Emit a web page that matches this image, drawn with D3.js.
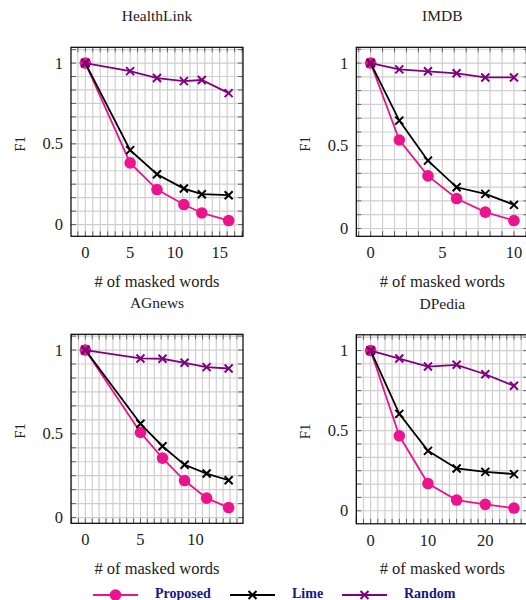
<!DOCTYPE html>
<html>
<head>
<meta charset="utf-8">
<script src="https://cdn.jsdelivr.net/npm/d3@7"></script>
<style>
body { margin: 0; background: #fff; }
</style>
</head>
<body>
<div id="chart"></div>
<script>
// values (F1 vs number of masked words)
var healthX = [0, 5, 8, 11, 13, 16];
var healthProposed = [1.0, 0.382, 0.217, 0.124, 0.072, 0.025];
var healthLime = [1.0, 0.461, 0.312, 0.223, 0.188, 0.182];
var healthRandom = [1.0, 0.950, 0.907, 0.888, 0.895, 0.814];

var imdbX = [0, 2, 4, 6, 8, 10];
var imdbProposed = [1.0, 0.535, 0.318, 0.181, 0.099, 0.048];
var imdbLime = [1.0, 0.652, 0.410, 0.249, 0.209, 0.143];
var imdbRandom = [1.0, 0.962, 0.950, 0.938, 0.913, 0.913];

var agX = [0, 5, 7, 9, 11, 13];
var agProposed = [1.0, 0.508, 0.355, 0.221, 0.116, 0.060];
var agLime = [1.0, 0.560, 0.426, 0.315, 0.263, 0.223];
var agRandom = [1.0, 0.950, 0.948, 0.924, 0.898, 0.890];

var dpX = [0, 5, 10, 15, 20, 25];
var dpProposed = [1.0, 0.468, 0.170, 0.067, 0.040, 0.017];
var dpLime = [1.0, 0.605, 0.374, 0.264, 0.243, 0.229];
var dpRandom = [1.0, 0.950, 0.900, 0.911, 0.852, 0.780];

var titles = ["HealthLink", "IMDB", "AGnews", "DPedia"];
var xTickValues = [[0, 5, 10, 15], [0, 5, 10], [0, 5, 10], [0, 10, 20]];
var yTickValues = [0, 0.5, 1];
var seriesNames = ["Proposed", "Lime", "Random"];
var xLabel = "# of masked words";
var yLabel = "F1";

var colors = ["#ec148c", "#000000", "#800080"];
var markers = ["circle", "x", "x"];
var serif = "'Liberation Serif', 'DejaVu Serif', serif";

var panels = [
    {title: titles[0], xs: healthX, ys: [healthProposed, healthLime, healthRandom], ticks: xTickValues[0], minor: 5, left: 71, top: 47.3},
    {title: titles[1], xs: imdbX, ys: [imdbProposed, imdbLime, imdbRandom], ticks: xTickValues[1], minor: 5, left: 356.3, top: 47.3},
    {title: titles[2], xs: agX, ys: [agProposed, agLime, agRandom], ticks: xTickValues[2], minor: 7, left: 71, top: 334.3},
    {title: titles[3], xs: dpX, ys: [dpProposed, dpLime, dpRandom], ticks: xTickValues[3], minor: 7, left: 356.3, top: 334.8}
];

var boxW = 172, boxH = 189;

var svg = d3.select("#chart").append("svg")
    .attr("width", 526)
    .attr("height", 600)
    .attr("font-family", serif);

function drawMarker(sel, type, color) {
    if (type == "circle") {
        sel.append("circle").attr("r", 5.8).attr("fill", color);
    } else {
        sel.append("path")
            .attr("d", "M-4,-4L4,4M-4,4L4,-4")
            .attr("stroke", color)
            .attr("stroke-width", 2)
            .attr("fill", "none");
    }
}

// pgfplots style: enlarge limits by 10% of the data range
function enlarge(ext) {
    var pad = (ext[1] - ext[0]) * 0.1;
    return [ext[0] - pad, ext[1] + pad];
}

function gridValues(domain, step) {
    var start = Math.ceil(domain[0] / step - 1e-9) * step;
    return d3.range(start, domain[1] + 1e-9, step);
}

function addText(sel) {
    return sel.append("text")
        .attr("font-family", serif)
        .attr("fill", "#222");
}

function drawPanel(p) {
    var g = svg.append("g").attr("transform", "translate(" + p.left + "," + p.top + ")");

    var allY = d3.merge(p.ys);
    var x = d3.scaleLinear().domain(enlarge(d3.extent(p.xs))).range([0, boxW]);
    var y = d3.scaleLinear().domain(enlarge(d3.extent(allY))).range([boxH, 0]);

    var xStep = (p.ticks[1] - p.ticks[0]) / (p.minor + 1);
    var yStep = 0.5 / 6;
    var xGrid = gridValues(x.domain(), xStep);
    var yGrid = gridValues(y.domain(), yStep);

    // grid
    g.append("g").selectAll("line").data(xGrid).enter().append("line")
        .attr("x1", function(d) { return x(d); }).attr("x2", function(d) { return x(d); })
        .attr("y1", 0).attr("y2", boxH)
        .attr("stroke", "#cfcfcf").attr("stroke-width", 1.2);
    g.append("g").selectAll("line").data(yGrid).enter().append("line")
        .attr("y1", function(d) { return y(d); }).attr("y2", function(d) { return y(d); })
        .attr("x1", 0).attr("x2", boxW)
        .attr("stroke", "#cfcfcf").attr("stroke-width", 1.2);

    // inner ticks on all four sides
    var tk = g.append("g").attr("stroke", "#555").attr("stroke-width", 0.9);
    xGrid.forEach(function(d) {
        tk.append("line").attr("x1", x(d)).attr("x2", x(d)).attr("y1", boxH).attr("y2", boxH - 5);
        tk.append("line").attr("x1", x(d)).attr("x2", x(d)).attr("y1", 0).attr("y2", 5);
    });
    yGrid.forEach(function(d) {
        tk.append("line").attr("y1", y(d)).attr("y2", y(d)).attr("x1", 0).attr("x2", 5);
        tk.append("line").attr("y1", y(d)).attr("y2", y(d)).attr("x1", boxW).attr("x2", boxW - 5);
    });

    // series
    var line = d3.line()
        .x(function(d) { return x(d[0]); })
        .y(function(d) { return y(d[1]); });

    p.ys.forEach(function(vals, i) {
        var pts = p.xs.map(function(xv, j) { return [xv, vals[j]]; });
        g.append("path")
            .datum(pts)
            .attr("d", line)
            .attr("fill", "none")
            .attr("stroke", colors[i])
            .attr("stroke-width", 1.8);
        pts.forEach(function(pt) {
            var m = g.append("g").attr("transform", "translate(" + x(pt[0]) + "," + y(pt[1]) + ")");
            drawMarker(m, markers[i], colors[i]);
        });
    });

    // frame
    g.append("rect")
        .attr("width", boxW).attr("height", boxH)
        .attr("fill", "none").attr("stroke", "#000").attr("stroke-width", 1.2);

    // tick labels
    p.ticks.forEach(function(d) {
        addText(g).attr("x", x(d)).attr("y", boxH + 22)
            .attr("text-anchor", "middle").attr("font-size", 16.5)
            .text(d);
    });
    yTickValues.forEach(function(d) {
        addText(g).attr("x", -8).attr("y", y(d) + 5.5)
            .attr("text-anchor", "end").attr("font-size", 16.5)
            .text(d);
    });

    // labels
    addText(g).attr("x", boxW / 2).attr("y", -26)
        .attr("text-anchor", "middle").attr("font-size", 15.5)
        .text(p.title);
    addText(g).attr("x", boxW / 2).attr("y", boxH + 50.5)
        .attr("text-anchor", "middle").attr("font-size", 16.5)
        .text(xLabel);
    addText(g).attr("transform", "translate(-46," + (boxH / 2 + 2) + ") rotate(-90)")
        .attr("text-anchor", "middle").attr("font-size", 15)
        .text(yLabel);
}

panels.forEach(drawPanel);

// legend
var legendX = [93, 230, 342];
var legendText = [155, 292, 404];
var legendY = 595;
var legend = svg.append("g");
seriesNames.forEach(function(name, i) {
    legend.append("line")
        .attr("x1", legendX[i]).attr("x2", legendX[i] + 45)
        .attr("y1", legendY).attr("y2", legendY)
        .attr("stroke", colors[i]).attr("stroke-width", 1.8);
    var m = legend.append("g").attr("transform", "translate(" + (legendX[i] + 22.5) + "," + legendY + ")");
    drawMarker(m, markers[i], colors[i]);
    addText(legend)
        .attr("x", legendText[i]).attr("y", 598)
        .attr("font-size", 14).attr("font-weight", "bold")
        .attr("fill", "#15158a")
        .text(name);
});
</script>
</body>
</html>
